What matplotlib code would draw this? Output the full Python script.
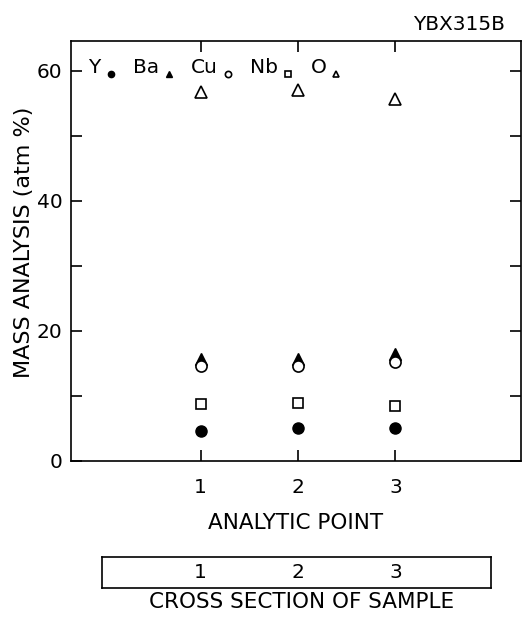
import matplotlib
matplotlib.use("Agg")
import matplotlib.pyplot as plt
from matplotlib.legend_handler import HandlerLine2D

# ---- data ----
points = [1, 2, 3]
point_labels = ["1", "2", "3"]
y_vals = [4.6, 5.15, 5.0]
ba_vals = [15.7, 15.7, 16.4]
cu_vals = [14.6, 14.6, 15.2]
nb_vals = [8.7, 8.85, 8.4]
o_vals = [56.8, 57.0, 55.7]
section_labels = ["1", "2", "3"]
y_ticks = [0, 20, 40, 60]

plt.rcParams['font.family'] = ['DejaVu Sans']


class LowHandler(HandlerLine2D):
    """Legend marker drawn a little below the text centre, like the original."""
    def create_artists(self, legend, orig_handle, xdescent, ydescent,
                       width, height, fontsize, trans):
        arts = super().create_artists(legend, orig_handle, xdescent, ydescent,
                                      width, height, fontsize, trans)
        for a in arts:
            a.set_ydata([v - 6 for v in a.get_ydata()])
        return arts


W, H = 522, 625
fig = plt.figure(figsize=(W / 100, H / 100), dpi=100)

ax_l, ax_r, ax_t, ax_b = 71, 521, 41, 461
ax = fig.add_axes([ax_l / W, 1 - ax_b / H, (ax_r - ax_l) / W, (ax_b - ax_t) / H])
lw = 1.2
xlim = (-0.33, 4.29)
ax.set_xlim(*xlim)
ax.set_ylim(0, 64.6)

ms = 8
ax.plot(points, y_vals, 'o', color='black', ms=ms, label='Y', ls='none')
ax.plot(points, ba_vals, '^', color='black', ms=ms, label='Ba', ls='none')
ax.plot(points, cu_vals, 'o', mfc='white', mec='black', mew=1.2, ms=ms, label='Cu', ls='none')
ax.plot(points, nb_vals, 's', mfc='white', mec='black', mew=1.2, ms=7.5, label='Nb', ls='none')
ax.plot(points, o_vals, '^', mfc='white', mec='black', mew=1.2, ms=9, label='O', ls='none')

for s in ax.spines.values():
    s.set_linewidth(lw)

fs = 14.5
ax.set_xticks(points)
ax.set_xticklabels(point_labels, fontsize=fs)
ax.set_yticks(y_ticks)
ax.set_yticks([10, 30, 50], minor=True)
ax.tick_params(axis='y', which='both', direction='in', length=8, width=lw,
               right=True, labelsize=fs, pad=6)
ax.tick_params(axis='x', direction='in', length=8, width=lw, top=True,
               labelsize=fs, pad=12)
ax.set_xlabel("ANALYTIC POINT", fontsize=15.5, labelpad=12)
ax.set_ylabel("MASS ANALYSIS (atm %)", fontsize=16, va='center')
ax.yaxis.set_label_coords((24 - ax_l) / (ax_r - ax_l), (ax_b - 242) / (ax_b - ax_t))

leg = ax.legend(ncol=5, markerfirst=False, frameon=False, loc='upper left',
                bbox_to_anchor=(0.007, 1.0 - 3 / 420), fontsize=fs, handlelength=0.5,
                handletextpad=0.25, columnspacing=0.85, borderaxespad=0.3,
                handler_map={matplotlib.lines.Line2D: LowHandler()})
for h in leg.legend_handles:
    h.set_markersize(4.5)

fig.text(0.967, 0.96, "YBX315B", ha='right', va='center', fontsize=fs)

# section box
bx_l, bx_r, bx_t, bx_b = 102, 491, 557, 588
ax2 = fig.add_axes([bx_l / W, 1 - bx_b / H, (bx_r - bx_l) / W, (bx_b - bx_t) / H])
scale = (xlim[1] - xlim[0]) / (ax_r - ax_l)
ax2.set_xlim(xlim[0] + (bx_l - ax_l) * scale, xlim[0] + (bx_r - ax_l) * scale)
ax2.set_ylim(0, 1)
ax2.set_xticks([])
ax2.set_yticks([])
for s in ax2.spines.values():
    s.set_linewidth(lw)
for xp, lab in zip(points, section_labels):
    ax2.text(xp, 0.5, lab, ha='center', va='center', fontsize=fs)

fig.text(302 / W, 1 - 602 / H, "CROSS SECTION OF SAMPLE", ha='center', va='center', fontsize=15.5)

fig.savefig("out.png", dpi=100)
